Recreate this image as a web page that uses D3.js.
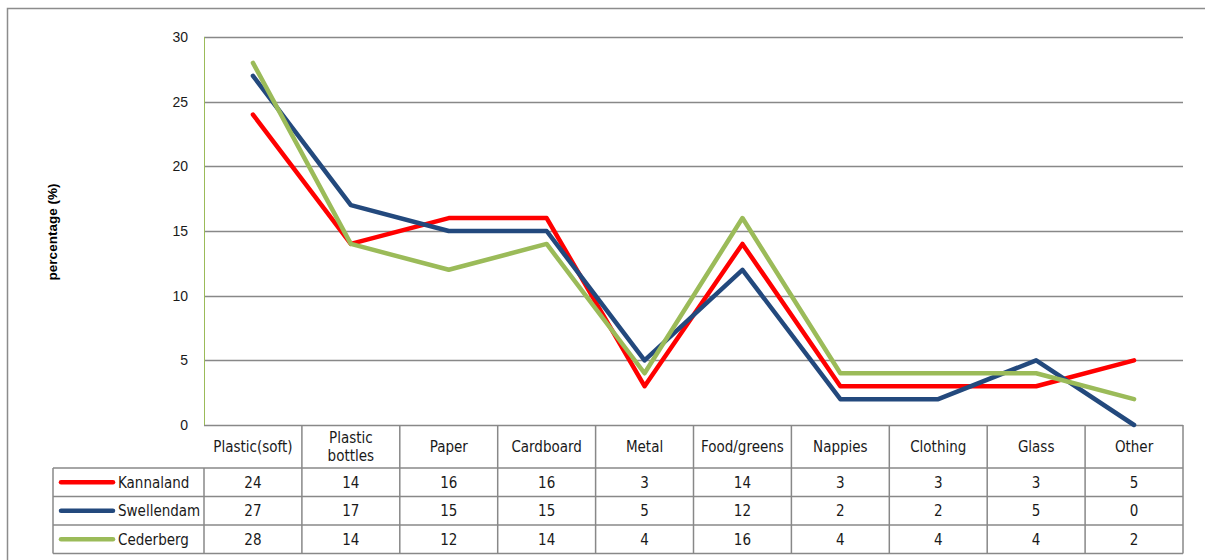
<!DOCTYPE html>
<html>
<head>
<meta charset="utf-8">
<script src="https://cdn.jsdelivr.net/npm/d3@7"></script>
<style>
  html, body { margin: 0; padding: 0; background: #fff; }
  svg { display: block; }
</style>
</head>
<body>
<svg id="chart" width="1205" height="560"></svg>
<script>
// Waste composition by municipality (percentage of total)
const categories = ["Plastic(soft)", "Plastic bottles", "Paper", "Cardboard", "Metal",
                    "Food/greens", "Nappies", "Clothing", "Glass", "Other"];
const kannaland  = [24, 14, 16, 16, 3, 14, 3, 3, 3, 5];
const swellendam = [27, 17, 15, 15, 5, 12, 2, 2, 5, 0];
const cederberg  = [28, 14, 12, 14, 4, 16, 4, 4, 4, 2];
const seriesNames = ["Kannaland", "Swellendam", "Cederberg"];
const seriesColors = ["#ff0000", "#23497d", "#9bbb59"];
const yTicks = [0, 5, 10, 15, 20, 25, 30];

const series = [kannaland, swellendam, cederberg].map((values, i) => ({
  name: seriesNames[i], color: seriesColors[i], values
}));

const svg = d3.select("#chart");
const font = "'Liberation Sans', Arial, sans-serif";
const tableFont = "'DejaVu Sans Condensed', 'DejaVu Sans', sans-serif";
const tableSize = 15;
const gridColor = "#888888";

const plotLeft = 204, plotRight = 1183, plotTop = 37, plotBottom = 425;
const x = d3.scaleBand().domain(categories).range([plotLeft, plotRight]);
const y = d3.scaleLinear().domain([0, 30]).range([plotBottom, plotTop]);

// Outer frame
svg.append("path")
  .attr("d", "M7.5,560 L7.5,8.5 L1205,8.5")
  .attr("fill", "none").attr("stroke", "#8c8c8c").attr("stroke-width", 1.5);

// Horizontal gridlines
svg.append("g").selectAll("line").data(yTicks).join("line")
  .attr("x1", plotLeft).attr("x2", plotRight)
  .attr("y1", d => Math.round(y(d)) + 0.5).attr("y2", d => Math.round(y(d)) + 0.5)
  .attr("stroke", gridColor).attr("stroke-width", 1.5);

// Value axis line
svg.append("line")
  .attr("x1", plotLeft + 0.5).attr("x2", plotLeft + 0.5).attr("y1", plotTop).attr("y2", plotBottom)
  .attr("stroke", "#9bbb59").attr("stroke-width", 1);

// Value axis labels
const yAxis = d3.axisLeft(y).tickValues(yTicks).tickSize(0).tickPadding(0);
const gy = svg.append("g").attr("transform", `translate(${plotLeft - 16},0)`).call(yAxis);
gy.select(".domain").remove();
gy.selectAll("text").attr("font-family", font).attr("font-size", 14).attr("fill", "#1a1a1a");

// Axis title
svg.append("text")
  .attr("transform", "translate(57,232) rotate(-90)")
  .attr("text-anchor", "middle")
  .attr("font-family", font).attr("font-size", 13.5).attr("font-weight", "bold")
  .attr("fill", "#000")
  .text("percentage (%)");

// Lines
const line = d3.line()
  .x((d, i) => x(categories[i]) + x.bandwidth() / 2)
  .y(d => y(d));

svg.append("g").selectAll("path").data(series).join("path")
  .attr("d", d => line(d.values))
  .attr("fill", "none")
  .attr("stroke", d => d.color)
  .attr("stroke-width", 4.5)
  .attr("stroke-linejoin", "round")
  .attr("stroke-linecap", "round");

// Data table
const headerBottom = 468;
const rowH = 28.5;
const tableLeft = 53;
const tableBottom = headerBottom + rowH * series.length;
const tbl = svg.append("g");

// Row separators
tbl.selectAll("line.row").data(d3.range(series.length + 1)).join("line")
  .attr("class", "row")
  .attr("x1", tableLeft).attr("x2", plotRight)
  .attr("y1", i => headerBottom + i * rowH).attr("y2", i => headerBottom + i * rowH)
  .attr("stroke", gridColor).attr("stroke-width", 1.5);

// Column separators
const colEdges = categories.map(c => x(c)).concat([plotRight]);
tbl.selectAll("line.col").data(colEdges).join("line")
  .attr("class", "col")
  .attr("x1", d => d).attr("x2", d => d)
  .attr("y1", (d, i) => i === 0 ? headerBottom : plotBottom).attr("y2", tableBottom)
  .attr("stroke", gridColor).attr("stroke-width", 1.5);
tbl.append("line")
  .attr("x1", tableLeft).attr("x2", tableLeft)
  .attr("y1", headerBottom).attr("y2", tableBottom)
  .attr("stroke", gridColor).attr("stroke-width", 1.5);

// Category headers (wrapped)
const headerLines = c => c === "Plastic bottles" ? ["Plastic", "bottles"] : [c];
categories.forEach(c => {
  const lines = headerLines(c);
  const cx = x(c) + x.bandwidth() / 2;
  const cy = (plotBottom + headerBottom) / 2;
  const t = tbl.append("text")
    .attr("text-anchor", "middle")
    .attr("font-family", tableFont).attr("font-size", tableSize).attr("fill", "#1a1a1a");
  lines.forEach((s, k) => {
    t.append("tspan").attr("x", cx)
      .attr("y", cy + 5.5 + (k - (lines.length - 1) / 2) * 18)
      .text(s);
  });
});

// Legend keys and values
series.forEach((s, r) => {
  const cy = headerBottom + r * rowH + rowH / 2;
  tbl.append("line")
    .attr("x1", 61).attr("x2", 113).attr("y1", cy).attr("y2", cy)
    .attr("stroke", s.color).attr("stroke-width", 4.5).attr("stroke-linecap", "round");
  tbl.append("text")
    .attr("x", 118).attr("y", cy + 5.5)
    .attr("font-family", tableFont).attr("font-size", tableSize).attr("fill", "#1a1a1a")
    .text(s.name);
  tbl.selectAll(null).data(s.values).join("text")
    .attr("x", (d, i) => x(categories[i]) + x.bandwidth() / 2)
    .attr("y", cy + 5.5)
    .attr("text-anchor", "middle")
    .attr("font-family", tableFont).attr("font-size", tableSize).attr("fill", "#1a1a1a")
    .text(d => d);
});
</script>
</body>
</html>
